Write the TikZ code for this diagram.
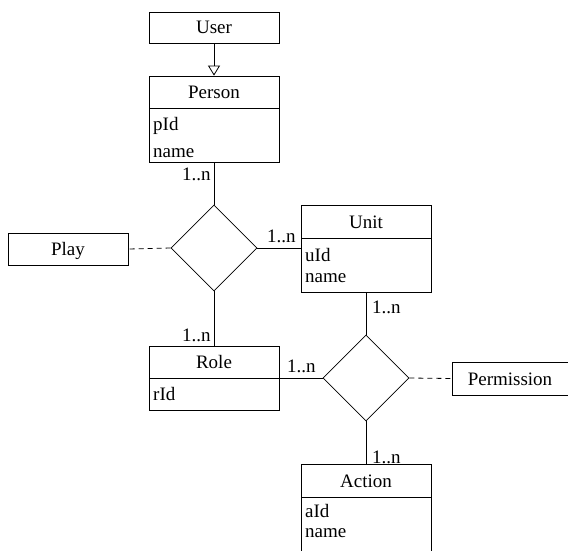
\documentclass[tikz,border=0pt]{standalone}
\usepackage{fontspec}
\setmainfont{Liberation Serif}
\usetikzlibrary{shapes.geometric,arrows.meta}
\begin{document}
\begin{tikzpicture}[x=1pt,y=-1pt,
  every node/.style={font=\fontsize{19}{23}\selectfont, inner sep=0pt},
  ent/.style={draw, line width=0.8pt, rectangle, inner sep=0pt},
  rel/.style={draw, line width=0.8pt, diamond, minimum width=86pt, minimum height=86pt, inner sep=0pt},
  conn/.style={line width=0.8pt},
  dconn/.style={line width=0.8pt, dash pattern=on 5pt off 4pt},
  attr/.style={anchor=base west},
  ttl/.style={anchor=base},
  card/.style={anchor=base west}]
\useasboundingbox (0,0) rectangle (568,550);
\clip (0,0) rectangle (568,550);
% entities
\node[ent, minimum width=130pt, minimum height=31pt] (user) at (214,27.5) {};
\node[ttl] (usert) at (214,33.5) {User};
\node[ent, minimum width=130pt, minimum height=86pt] (person) at (214,119) {};
\node[ttl] (persont) at (214,98.5) {Person};
\node[attr] (pid) at (153,130) {pId};
\node[attr] (pname) at (153,157) {name};
\node[ent, minimum width=130pt, minimum height=87pt] (unit) at (366,248.5) {};
\node[ttl] (unitt) at (366,228) {Unit};
\node[attr] (uid) at (305,261) {uId};
\node[attr] (uname) at (305,282) {name};
\node[ent, minimum width=130pt, minimum height=64pt] (role) at (214,378) {};
\node[ttl] (rolet) at (214,368.5) {Role};
\node[attr] (rid) at (153,400) {rId};
\node[ent, minimum width=130pt, minimum height=96pt] (action) at (366,512) {};
\node[ttl] (actiont) at (366,487) {Action};
\node[attr] (aid) at (305,517) {aId};
\node[attr] (aname) at (305,537) {name};
\node[ent, minimum width=120pt, minimum height=32pt] (play) at (68,249) {};
\node[ttl] (playt) at (68,255.5) {Play};
\node[ent, minimum width=128pt, minimum height=33pt] (perm) at (516,378.5) {};
\node[ttl] (permt) at (510,385) {Permission};
% dividers
\draw[conn] (149,108) -- (279,108);
\draw[conn] (301,238) -- (431,238);
\draw[conn] (149,378) -- (279,378);
\draw[conn] (301,497) -- (431,497);
% relationships
\node[rel] (d1) at (214,248) {};
\node[rel] (d2) at (366,378) {};
% connectors
\draw[conn, -{Triangle[open, width=12pt, length=10pt]}] (user.south) -- (person.north);
\draw[conn] (person.south) -- (d1.north);
\draw[conn] (d1.east) -- (d1.east -| unit.west);
\draw[dconn] (d1.west) -- (play.east);
\draw[conn] (d1.south) -- (role.north);
\draw[conn] (role.east) -- (d2.west);
\draw[conn] (unit.south) -- (d2.north);
\draw[dconn] (d2.east) -- (perm.west);
\draw[conn] (d2.south) -- (action.north);
% cardinalities
\node[card] (c1) at (182,180) {1..n};
\node[card] (c2) at (267,242) {1..n};
\node[card] (c3) at (182,341) {1..n};
\node[card] (c4) at (372,313) {1..n};
\node[card] (c5) at (287,372) {1..n};
\node[card] (c6) at (372,463) {1..n};
\end{tikzpicture}
\end{document}
